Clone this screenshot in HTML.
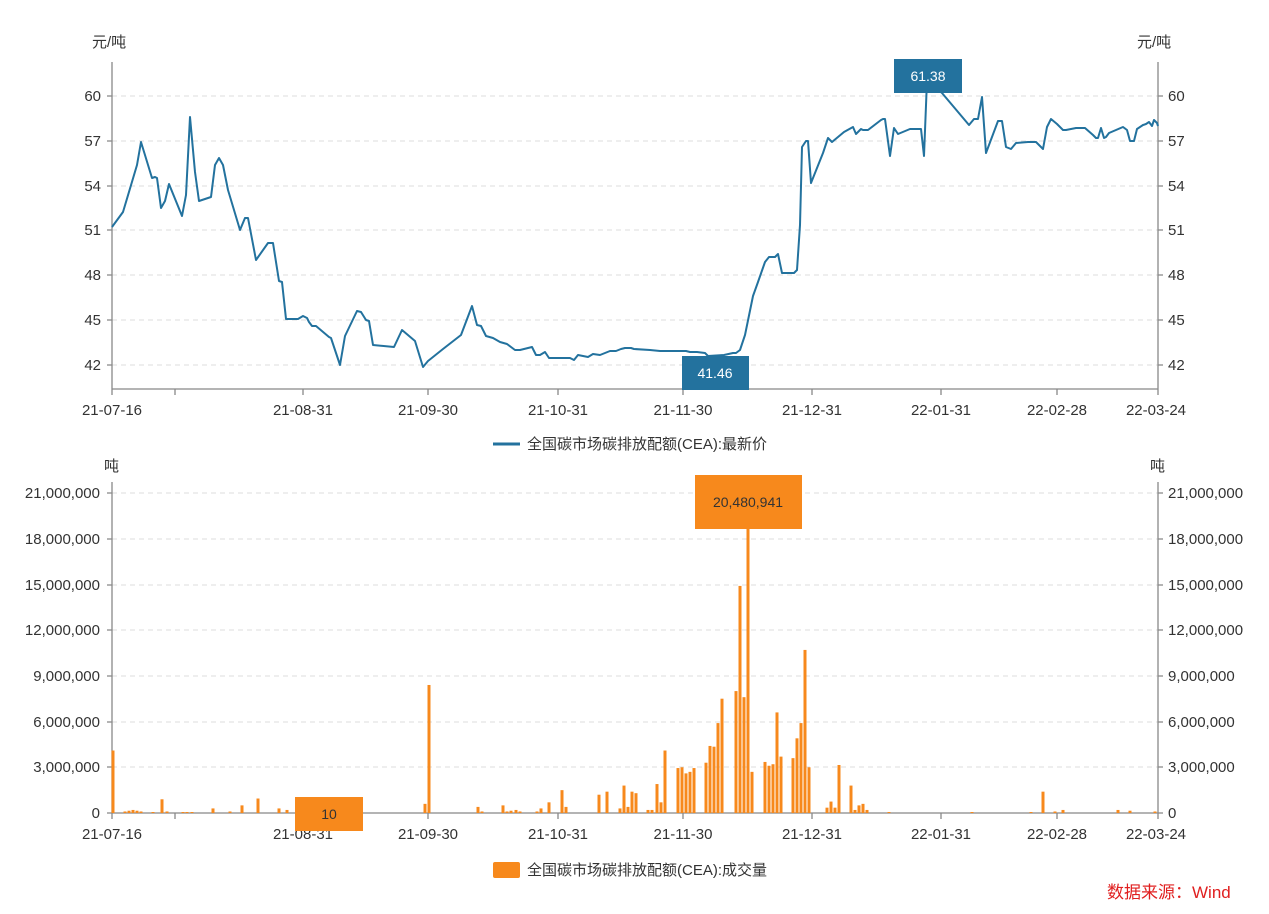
<!DOCTYPE html>
<html><head><meta charset="utf-8"><style>
body{margin:0;background:#fff;}
svg{display:block;font-family:"Liberation Sans","Noto Sans CJK SC",sans-serif;}
</style></head><body>
<svg width="1269" height="914" viewBox="0 0 1269 914" xmlns="http://www.w3.org/2000/svg">
<g stroke="#dcdcdc" stroke-dasharray="5,4" stroke-width="1">
<line x1="112" x2="1158" y1="96" y2="96"/><line x1="112" x2="1158" y1="141" y2="141"/><line x1="112" x2="1158" y1="186" y2="186"/><line x1="112" x2="1158" y1="230" y2="230"/><line x1="112" x2="1158" y1="275" y2="275"/><line x1="112" x2="1158" y1="320" y2="320"/><line x1="112" x2="1158" y1="365" y2="365"/>
<line x1="112" x2="1158" y1="493" y2="493"/><line x1="112" x2="1158" y1="539" y2="539"/><line x1="112" x2="1158" y1="585" y2="585"/><line x1="112" x2="1158" y1="630" y2="630"/><line x1="112" x2="1158" y1="676" y2="676"/><line x1="112" x2="1158" y1="722" y2="722"/><line x1="112" x2="1158" y1="767" y2="767"/>
</g>
<g stroke="#888" stroke-width="1.3" fill="none">
<line x1="112" y1="62" x2="112" y2="389"/><line x1="1158" y1="62" x2="1158" y2="389"/><line x1="112" y1="389" x2="1158" y2="389"/>
<line x1="112" y1="482" x2="112" y2="813"/><line x1="1158" y1="482" x2="1158" y2="813"/><line x1="112" y1="813" x2="1158" y2="813"/>
<path d="M107 96h5M107 141h5M107 186h5M107 230h5M107 275h5M107 320h5M107 365h5M1158 96h5M1158 141h5M1158 186h5M1158 230h5M1158 275h5M1158 320h5M1158 365h5"/>
<path d="M107 493h5M107 539h5M107 585h5M107 630h5M107 676h5M107 722h5M107 767h5M107 813h5M1158 493h5M1158 539h5M1158 585h5M1158 630h5M1158 676h5M1158 722h5M1158 767h5M1158 813h5"/>
<path d="M112 389v6M175 389v6M303 389v6M428 389v6M558 389v6M683 389v6M812 389v6M941 389v6M1057 389v6M1158 389v6"/>
<path d="M112 813v6M175 813v6M303 813v6M428 813v6M558 813v6M683 813v6M812 813v6M941 813v6M1057 813v6M1158 813v6"/>
</g>
<g font-size="15" fill="#333">
<text x="92" y="47">元/吨</text><text x="1137" y="47">元/吨</text>
<g text-anchor="end"><text x="101" y="101">60</text><text x="101" y="146">57</text><text x="101" y="191">54</text><text x="101" y="235">51</text><text x="101" y="280">48</text><text x="101" y="325">45</text><text x="101" y="370">42</text></g>
<g><text x="1168" y="101">60</text><text x="1168" y="146">57</text><text x="1168" y="191">54</text><text x="1168" y="235">51</text><text x="1168" y="280">48</text><text x="1168" y="325">45</text><text x="1168" y="370">42</text></g>
<g text-anchor="middle"><text x="112" y="415">21-07-16</text><text x="303" y="415">21-08-31</text><text x="428" y="415">21-09-30</text><text x="558" y="415">21-10-31</text><text x="683" y="415">21-11-30</text><text x="812" y="415">21-12-31</text><text x="941" y="415">22-01-31</text><text x="1057" y="415">22-02-28</text><text x="1156" y="415">22-03-24</text></g>
<text x="527" y="449">全国碳市场碳排放配额(CEA):最新价</text>
<text x="104" y="471">吨</text><text x="1150" y="471">吨</text>
<g text-anchor="end"><text x="100" y="498">21,000,000</text><text x="100" y="544">18,000,000</text><text x="100" y="590">15,000,000</text><text x="100" y="635">12,000,000</text><text x="100" y="681">9,000,000</text><text x="100" y="727">6,000,000</text><text x="100" y="772">3,000,000</text><text x="100" y="818">0</text></g>
<g><text x="1168" y="498">21,000,000</text><text x="1168" y="544">18,000,000</text><text x="1168" y="590">15,000,000</text><text x="1168" y="635">12,000,000</text><text x="1168" y="681">9,000,000</text><text x="1168" y="727">6,000,000</text><text x="1168" y="772">3,000,000</text><text x="1168" y="818">0</text></g>
<g text-anchor="middle"><text x="112" y="839">21-07-16</text><text x="303" y="839">21-08-31</text><text x="428" y="839">21-09-30</text><text x="558" y="839">21-10-31</text><text x="683" y="839">21-11-30</text><text x="812" y="839">21-12-31</text><text x="941" y="839">22-01-31</text><text x="1057" y="839">22-02-28</text><text x="1156" y="839">22-03-24</text></g>
<text x="527" y="875">全国碳市场碳排放配额(CEA):成交量</text>
</g>
<line x1="493" y1="444" x2="520" y2="444" stroke="#23729e" stroke-width="3"/>
<rect x="493" y="862" width="27" height="16" rx="2" fill="#f7891c"/>
<text x="1107" y="898" font-size="17" fill="#e02020">数据来源：Wind</text>
<polyline fill="none" stroke="#23729e" stroke-width="2" stroke-linejoin="round" points="112,227 123,212 137,165 141,142 152,178 155,177 157,178 161,208 165,201 169,184 182,216 186,195 190,117 195,172 199,201 211,197 215,165 219,158 223,165 228,190 240,230 245,218 248,218 256,260 268,243 273,243 279,281 282,282 286,319 298,319 303,316 307,318 309,322 312,326 316,326 329,337 331,338 340,365 345,336 357,311 361,312 366,320 369,321 373,345 394,347 402,330 415,341 419,354 423,367 428,361 443,349 461,335 472,306 477,325 481,326 486,336 493,338 500,342 507,344 515,350 520,350 532,347 536,355 540,355 545,352 549,358 555,358 570,358 574,360 578,355 588,357 593,354 600,355 610,351 616,351 621,349 625,348 631,348 634,349 650,350 660,351 669,351 680,351 686,351 690,352 697,352 705,353 708,356 724,355 733,353 736,353 740,350 745,335 753,296 758,282 765,262 769,257 775,257 777,255 778,254 782,273 794,273 797,270 800,225 802,147 806,141 808,141 811,183 823,153 828,138 832,142 844,132 853,127 856,134 861,129 863,130 868,130 881,120 883,119 885,119 890,156 894,128 898,134 910,129 917,129 921,129 924,156 927,80 942,93 969,125 974,119 978,119 982,97 986,153 998,121 1002,121 1006,147 1011,149 1016,143 1028,142 1036,142 1043,149 1047,127 1051,119 1057,124 1063,130 1066,130 1076,128 1085,128 1093,135 1096,138 1098,138 1101,128 1104,138 1106,137 1109,133 1116,130 1123,127 1127,130 1130,141 1134,141 1137,129 1143,125 1146,124 1149,122 1152,126 1154,120 1157,123 1158,126"/>
<g fill="#f7891c" id="bars"></g>
<rect x="894" y="59" width="68" height="34" fill="#23729e"/><text x="928" y="81" font-size="14" fill="#fff" text-anchor="middle">61.38</text>
<rect x="682" y="356" width="67" height="34" fill="#23729e"/><text x="715" y="378" font-size="14" fill="#fff" text-anchor="middle">41.46</text>
<g id="bars2"></g>
<rect x="695" y="475" width="107" height="54" fill="#f7891c"/><text x="748" y="507" font-size="14" fill="#333" text-anchor="middle">20,480,941</text>
<rect x="295" y="797" width="68" height="34" fill="#f7891c"/><text x="329" y="819" font-size="14" fill="#333" text-anchor="middle">10</text>
</svg>
<script>
var d=[[113,4.1],[125,.1],[129,.15],[133,.2],[137,.15],[141,.1],[153,.05],[162,.9],[167,.1],[183,.05],[187,.05],[192,.05],[213,.3],[230,.1],[242,.5],[258,.95],[279,.3],[287,.2],[300,.05],[425,.6],[429,8.4],[478,.4],[482,.1],[503,.5],[507,.1],[511,.15],[516,.2],[520,.1],[537,.1],[541,.3],[549,.7],[562,1.5],[566,.4],[599,1.2],[607,1.4],[620,.3],[624,1.8],[628,.4],[632,1.4],[636,1.3],[648,.2],[652,.2],[657,1.9],[661,.7],[665,4.1],[678,2.95],[682,3],[686,2.6],[690,2.7],[694,2.95],[706,3.3],[710,4.4],[714,4.35],[718,5.9],[722,7.5],[736,8],[740,14.9],[744,7.6],[748,20.48],[752,2.7],[765,3.35],[769,3.1],[773,3.2],[777,6.6],[781,3.7],[793,3.6],[797,4.9],[801,5.9],[805,10.7],[809,3],[827,.35],[831,.75],[835,.35],[839,3.15],[851,1.8],[855,.2],[859,.5],[863,.6],[867,.2],[889,.05],[972,.05],[1031,.05],[1043,1.4],[1055,.1],[1063,.2],[1118,.2],[1130,.15],[1155,.1]];
var g=document.getElementById('bars'),s='';
d.forEach(function(b){var h=Math.max(1,b[1]*15.24);s+='<rect x="'+(b[0]-1.5)+'" y="'+(813-h)+'" width="3" height="'+h+'"/>';});
g.innerHTML=s;
</script>
</body></html>
